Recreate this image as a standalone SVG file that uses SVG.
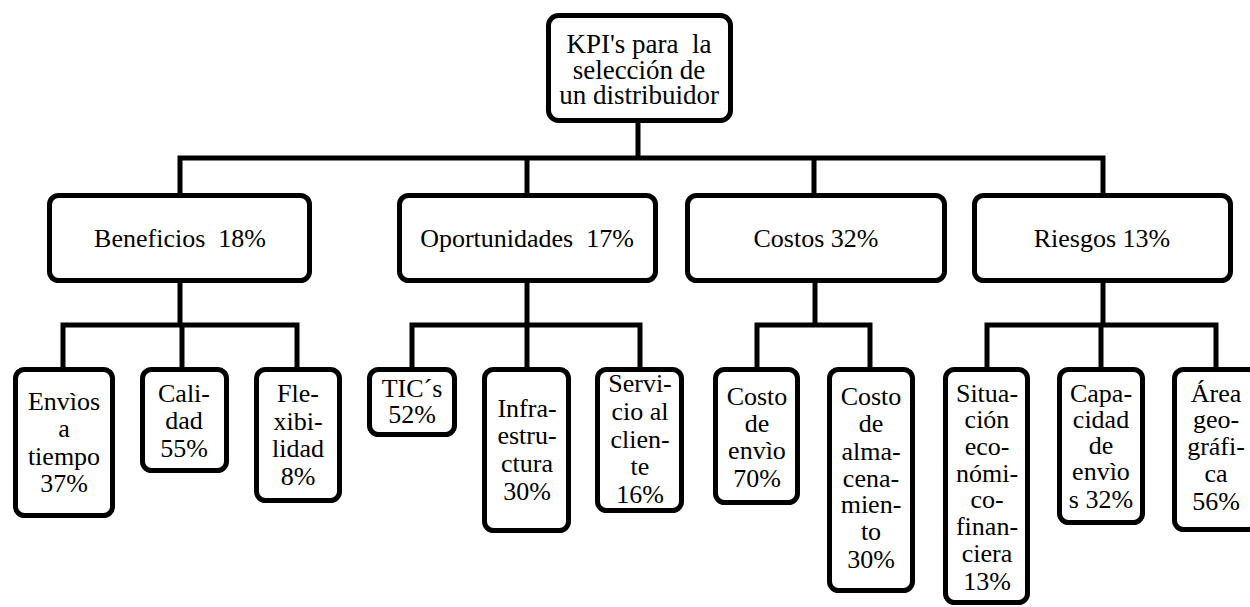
<svg xmlns="http://www.w3.org/2000/svg" width="1250" height="607" viewBox="0 0 1250 607">
<style>
.box{fill:#fff;stroke:#000;stroke-width:5}
.c{fill:none;stroke:#000;stroke-width:5;stroke-linejoin:miter}
.t{font-family:"Times New Roman","Liberation Serif",Tinos,"Nimbus Roman","Nimbus Roman No9 L",FreeSerif,"Noto Serif","DejaVu Serif",serif;font-size:26px;fill:#000;text-anchor:middle;white-space:pre}
.k{font-size:27px}
</style>
<rect width="1250" height="607" fill="#fff"/>
<g id="connectors">
<path class="c" d="M638,121 V158"/>
<path class="c" d="M180,195 V158 H1103 V195"/>
<path class="c" d="M527,158 V195 M814,158 V195"/>
<path class="c" d="M180,281 V325"/>
<path class="c" d="M63,369 V325 H297 V369 M182,325 V369"/>
<path class="c" d="M527,281 V325"/>
<path class="c" d="M412,369 V325 H640 V369 M527,325 V369"/>
<path class="c" d="M815,281 V325"/>
<path class="c" d="M757,369 V325 H870 V369"/>
<path class="c" d="M1103,281 V325"/>
<path class="c" d="M987,369 V325 H1216 V369 M1101,325 V369"/>
</g>
<g id="root">
<rect class="box" x="548.5" y="15.5" width="182" height="105" rx="10"/>
<text class="t k" x="639" y="53" xml:space="preserve">KPI's para  la</text>
<text class="t k" x="639" y="79">selección de</text>
<text class="t k" x="639" y="104">un distribuidor</text>
</g>
<g id="beneficios">
<rect class="box" x="49.5" y="195.5" width="260" height="85" rx="9"/>
<text class="t" x="180" y="247" xml:space="preserve">Beneficios  18%</text>
</g>
<g id="oportunidades">
<rect class="box" x="399.5" y="195.5" width="256" height="85" rx="9"/>
<text class="t" x="527" y="247" xml:space="preserve">Oportunidades  17%</text>
</g>
<g id="costos">
<rect class="box" x="687.5" y="195.5" width="257" height="85" rx="9"/>
<text class="t" x="816" y="247">Costos 32%</text>
</g>
<g id="riesgos">
<rect class="box" x="974.5" y="195.5" width="256" height="85" rx="9"/>
<text class="t" x="1102" y="247">Riesgos 13%</text>
</g>
<g id="envios">
<rect class="box" x="15.5" y="369.5" width="97" height="146" rx="9"/>
<text class="t" x="64" y="410">Envìos</text>
<text class="t" x="64" y="437">a</text>
<text class="t" x="64" y="465">tiempo</text>
<text class="t" x="64" y="492">37%</text>
</g>
<g id="calidad">
<rect class="box" x="142.5" y="369.5" width="84" height="101" rx="9"/>
<text class="t" x="184" y="402">Cali-</text>
<text class="t" x="184" y="429">dad</text>
<text class="t" x="184" y="457">55%</text>
</g>
<g id="flexibilidad">
<rect class="box" x="256.5" y="369.5" width="83" height="131" rx="9"/>
<text class="t" x="298" y="402">Fle-</text>
<text class="t" x="298" y="430">xibi-</text>
<text class="t" x="298" y="457">lidad</text>
<text class="t" x="298" y="485">8%</text>
</g>
<g id="tics">
<rect class="box" x="369.5" y="369.5" width="85" height="65" rx="9"/>
<text class="t" x="412" y="397">TIC´s</text>
<text class="t" x="412" y="423">52%</text>
</g>
<g id="infraestructura">
<rect class="box" x="484.5" y="369.5" width="84" height="161" rx="9"/>
<text class="t" x="527" y="417">Infra-</text>
<text class="t" x="527" y="444">estru-</text>
<text class="t" x="527" y="472">ctura</text>
<text class="t" x="527" y="500">30%</text>
</g>
<g id="servicio">
<rect class="box" x="597.5" y="369.5" width="84" height="141" rx="9"/>
<text class="t" x="640" y="392">Servi-</text>
<text class="t" x="640" y="420">cio al</text>
<text class="t" x="640" y="448">clien-</text>
<text class="t" x="640" y="475">te</text>
<text class="t" x="640" y="503">16%</text>
</g>
<g id="costo-envio">
<rect class="box" x="715.5" y="369.5" width="82" height="133" rx="9"/>
<text class="t" x="757" y="405">Costo</text>
<text class="t" x="757" y="432">de</text>
<text class="t" x="757" y="459">envìo</text>
<text class="t" x="757" y="487">70%</text>
</g>
<g id="costo-almacenamiento">
<rect class="box" x="829.5" y="369.5" width="83" height="221" rx="9"/>
<text class="t" x="871" y="405">Costo</text>
<text class="t" x="871" y="432">de</text>
<text class="t" x="871" y="460">alma-</text>
<text class="t" x="871" y="487">cena-</text>
<text class="t" x="871" y="513">mien-</text>
<text class="t" x="871" y="540">to</text>
<text class="t" x="871" y="568">30%</text>
</g>
<g id="situacion">
<rect class="box" x="945.5" y="369.5" width="82" height="233" rx="9"/>
<text class="t" x="987" y="402">Situa-</text>
<text class="t" x="987" y="428">ción</text>
<text class="t" x="987" y="455">eco-</text>
<text class="t" x="987" y="482">nómi-</text>
<text class="t" x="987" y="508">co-</text>
<text class="t" x="987" y="535">finan-</text>
<text class="t" x="987" y="562">ciera</text>
<text class="t" x="987" y="590">13%</text>
</g>
<g id="capacidad">
<rect class="box" x="1059.5" y="369.5" width="83" height="153" rx="9"/>
<text class="t" x="1101" y="402">Capa-</text>
<text class="t" x="1101" y="428">cidad</text>
<text class="t" x="1101" y="454">de</text>
<text class="t" x="1101" y="480">envìo</text>
<text class="t" x="1101" y="508">s 32%</text>
</g>
<g id="area">
<rect class="box" x="1174.5" y="369.5" width="83" height="160" rx="9"/>
<text class="t" x="1216" y="402">Área</text>
<text class="t" x="1216" y="428">geo-</text>
<text class="t" x="1216" y="455">gráfi-</text>
<text class="t" x="1216" y="482">ca</text>
<text class="t" x="1216" y="510">56%</text>
</g>
</svg>
